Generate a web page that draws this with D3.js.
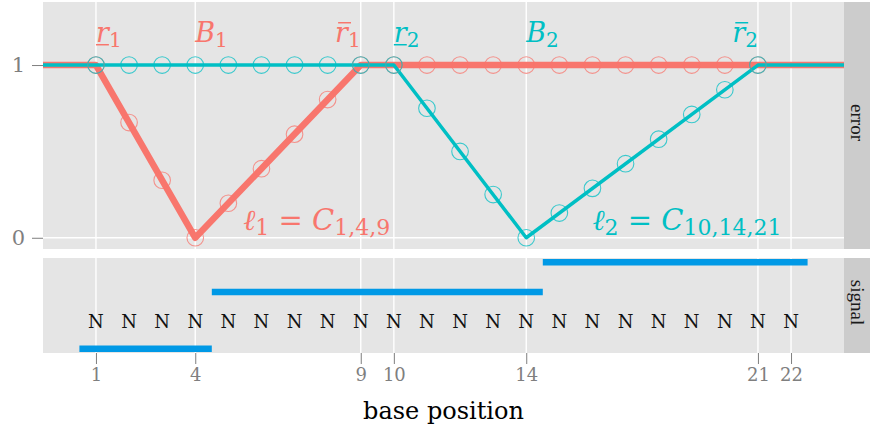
<!DOCTYPE html>
<html>
<head>
<meta charset="utf-8">
<script src="https://cdn.jsdelivr.net/npm/d3@7"></script>
<style>
  body { margin: 0; background: #fff; }
  text { font-family: "DejaVu Serif", "Liberation Serif", serif; }
</style>
</head>
<body>
<div id="chart"></div>
<script>
// base positions that carry an error point
const positions = [1, 2, 3, 4, 5, 6, 7, 8, 9, 10, 11, 12, 13, 14, 15, 16, 17, 18, 19, 20, 21];
const errorRed = [1, 0.667, 0.333, 0, 0.2, 0.4, 0.6, 0.8, 1, 1, 1, 1, 1, 1, 1, 1, 1, 1, 1, 1, 1];
const errorCyan = [1, 1, 1, 1, 1, 1, 1, 1, 1, 1, 0.75, 0.5, 0.25, 0, 0.143, 0.286, 0.429, 0.571, 0.714, 0.857, 1];

// the two piecewise lines ell_1 and ell_2 (run off both panel edges)
const redLineX = [-2, 1, 4, 9, 26];
const redLineY = [1, 1, 0, 1, 1];
const cyanLineX = [-2, 10, 14, 21, 26];
const cyanLineY = [1, 1, 0, 1, 1];

// signal track
const signalPos = [1, 2, 3, 4, 5, 6, 7, 8, 9, 10, 11, 12, 13, 14, 15, 16, 17, 18, 19, 20, 21, 22];
const signalLetters = ["N", "N", "N", "N", "N", "N", "N", "N", "N", "N", "N", "N", "N", "N", "N", "N", "N", "N", "N", "N", "N", "N"];
const segStart = [0.5, 4.5, 14.5];
const segEnd = [4.5, 14.5, 22.5];
const segLevel = [-1, 1.1, 2.2];

const xBreaks = [1, 4, 9, 10, 14, 21, 22];
const yBreaks = [0, 1];

// boundary labels above the error panel
const markX = [1, 4, 9, 10, 14, 21];
const markName = ["r", "B", "r", "r", "B", "r"];
const markSub = ["1", "1", "1", "2", "2", "2"];
const markDeco = ["under", "none", "over", "under", "none", "over"];
const markAnchor = ["start", "start", "end", "start", "start", "end"];
const markGroup = [0, 0, 0, 1, 1, 1];

// segment labels
const ellX = [5.45, 16.0];
const ellY = [0.045, 0.045];
const ellSub = ["1", "2"];
const ellIdx = ["1,4,9", "10,14,21"];

const width = 870;
const height = 430;
const colors = ["#F8766D", "#00BFC4"];
const serif = "DejaVu Serif, serif";

const svg = d3
  .select("#chart")
  .append("svg")
  .attr("width", width)
  .attr("height", height);

const panelLeft = 43;
const panelRight = 844;
const errTop = 2;
const errBottom = 249;
const sigTop = 258;
const sigBottom = 353;

const x = d3.scaleLinear().domain([-0.6, 23.6]).range([panelLeft, panelRight]);
const yErr = d3.scaleLinear().domain([-0.065, 1.365]).range([errBottom, errTop]);
const ySig = d3.scaleLinear().domain([-1.16, 2.36]).range([sigBottom, sigTop]);

// panels + strips
const panels = [
  { top: errTop, bottom: errBottom, name: "error" },
  { top: sigTop, bottom: sigBottom, name: "signal" },
];
panels.forEach((p, i) => {
  svg.append("rect")
    .attr("x", panelLeft).attr("y", p.top)
    .attr("width", panelRight - panelLeft).attr("height", p.bottom - p.top)
    .attr("fill", "#e5e5e5");
  svg.append("rect")
    .attr("x", panelRight).attr("y", p.top)
    .attr("width", width - panelRight).attr("height", p.bottom - p.top)
    .attr("fill", "#cccccc");
  svg.append("text")
    .attr("transform", `translate(${panelRight + 13},${(p.top + p.bottom) / 2 - 3}) rotate(90)`)
    .attr("text-anchor", "middle")
    .attr("dominant-baseline", "central")
    .style("font-family", "Liberation Serif, serif")
    .style("font-size", "19px")
    .attr("fill", "#1a1a1a")
    .text(p.name);
  svg.append("clipPath").attr("id", "clip" + i)
    .append("rect")
    .attr("x", panelLeft).attr("y", p.top)
    .attr("width", panelRight - panelLeft).attr("height", p.bottom - p.top);
  // vertical grid
  svg.append("g").selectAll("line").data(xBreaks).join("line")
    .attr("x1", d => x(d)).attr("x2", d => x(d))
    .attr("y1", p.top).attr("y2", p.bottom)
    .attr("stroke", "#fff").attr("stroke-width", 1.4);
});

// horizontal grid in error panel
svg.append("g").selectAll("line").data(yBreaks).join("line")
  .attr("x1", panelLeft).attr("x2", panelRight)
  .attr("y1", d => yErr(d)).attr("y2", d => yErr(d))
  .attr("stroke", "#fff").attr("stroke-width", 1.4);

// axes
const xAxis = d3.axisBottom(x).tickValues(xBreaks).tickSize(11).tickPadding(4);
const gx = svg.append("g").attr("transform", `translate(0,${sigBottom})`).call(xAxis);
gx.select(".domain").remove();
gx.selectAll(".tick line").attr("stroke", "#7f7f7f");
gx.selectAll(".tick text")
  .attr("fill", "#7f7f7f")
  .style("font-size", "18px")
  .style("font-family", serif);

const yAxis = d3.axisLeft(yErr).tickValues(yBreaks).tickFormat(d3.format("d")).tickSize(11).tickPadding(7);
const gy = svg.append("g").attr("transform", `translate(${panelLeft},0)`).call(yAxis);
gy.select(".domain").remove();
gy.selectAll(".tick line").attr("stroke", "#7f7f7f");
gy.selectAll(".tick text")
  .attr("fill", "#7f7f7f")
  .style("font-size", "21px")
  .style("font-family", serif);

svg.append("text")
  .attr("x", (panelLeft + panelRight) / 2)
  .attr("y", 419)
  .attr("text-anchor", "middle")
  .style("font-size", "24px")
  .attr("fill", "#000")
  .text("base position");

// error panel content
const errG = svg.append("g").attr("clip-path", "url(#clip0)");
const line = d3.line().x(d => x(d[0])).y(d => yErr(d[1]));

errG.append("path")
  .attr("d", line(redLineX.map((v, i) => [v, redLineY[i]])))
  .attr("fill", "none")
  .attr("stroke", colors[0])
  .attr("stroke-width", 6.5)
  .attr("stroke-linejoin", "round");

errG.append("path")
  .attr("d", line(cyanLineX.map((v, i) => [v, cyanLineY[i]])))
  .attr("fill", "none")
  .attr("stroke", colors[1])
  .attr("stroke-width", 3.5)
  .attr("stroke-linejoin", "round");

[errorRed, errorCyan].forEach((series, k) => {
  svg.append("g").selectAll("circle")
    .data(positions)
    .join("circle")
    .attr("cx", d => x(d))
    .attr("cy", (d, i) => yErr(series[i]))
    .attr("r", 8.3)
    .attr("fill", "none")
    .attr("stroke", colors[k])
    .attr("stroke-opacity", 0.75)
    .attr("stroke-width", 1.1);
});

// boundary labels, with bar under / over the r
const markBase = yErr(1.135);
markX.forEach((mx, i) => {
  const col = colors[markGroup[i]];
  const t = svg.append("text")
    .attr("x", x(mx))
    .attr("y", markBase)
    .attr("text-anchor", markAnchor[i])
    .style("font-size", "27px")
    .attr("fill", col);
  t.append("tspan")
    .attr("font-style", "italic")
    .text(markName[i]);
  t.append("tspan")
    .style("font-size", "20px")
    .attr("dy", 5)
    .text(markSub[i]);
  if (markDeco[i] !== "none") {
    const box = t.node().getExtentOfChar(0);
    const by = markDeco[i] === "under" ? markBase + 3 : markBase - 19;
    const shift = markDeco[i] === "under" ? 0 : 3;
    svg.append("line")
      .attr("x1", box.x + shift).attr("x2", box.x + box.width + shift)
      .attr("y1", by).attr("y2", by)
      .attr("stroke", col)
      .attr("stroke-width", 1.5);
  }
});

// ell labels
ellX.forEach((ex, i) => {
  const t = svg.append("text")
    .attr("x", x(ex))
    .attr("y", yErr(ellY[i]))
    .style("font-size", "29px")
    .attr("fill", colors[i]);
  t.append("tspan").attr("font-style", "italic").text("\u2113");
  t.append("tspan").style("font-size", "22px").attr("dy", 5).text(ellSub[i]);
  t.append("tspan").attr("dy", -5).text(" = ");
  t.append("tspan").attr("font-style", "italic").text("C");
  t.append("tspan").style("font-size", "22px").attr("dy", 5).text(ellIdx[i]);
});

// signal panel content
svg.append("g").selectAll("text")
  .data(signalPos)
  .join("text")
  .attr("x", d => x(d))
  .attr("y", ySig(0))
  .attr("text-anchor", "middle")
  .attr("dominant-baseline", "central")
  .style("font-size", "18px")
  .attr("fill", "#111")
  .text((d, i) => signalLetters[i]);

svg.append("g").selectAll("line")
  .data(segLevel)
  .join("line")
  .attr("x1", (d, i) => x(segStart[i]))
  .attr("x2", (d, i) => x(segEnd[i]))
  .attr("y1", d => ySig(d))
  .attr("y2", d => ySig(d))
  .attr("stroke", "#0099E6")
  .attr("stroke-width", 6.5);
</script>
</body>
</html>
